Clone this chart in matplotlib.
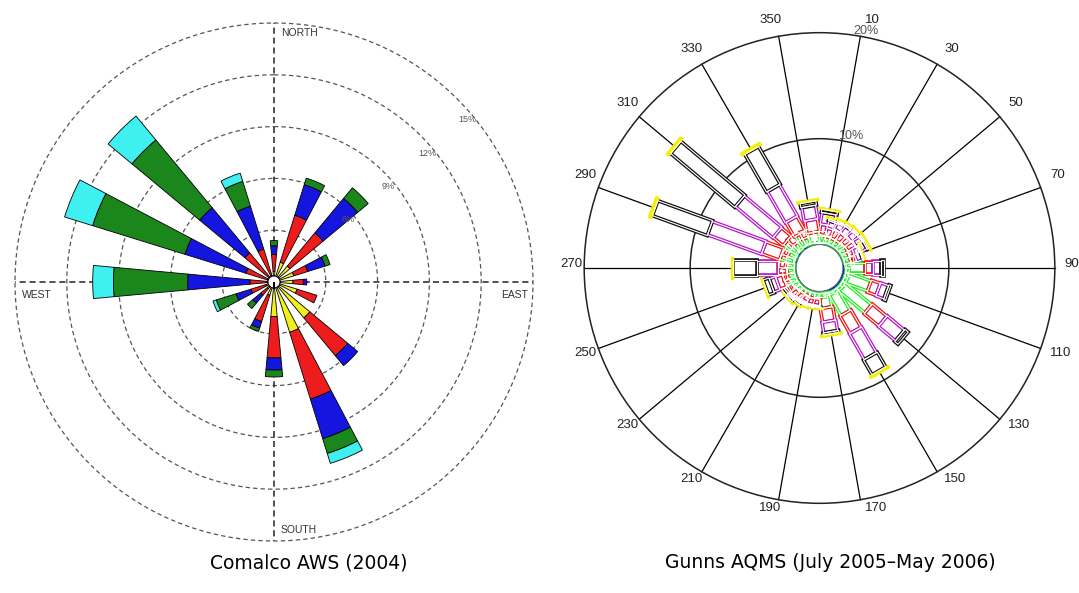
import numpy as np
import matplotlib.pyplot as plt
from matplotlib.patches import Polygon, Circle

# ---- left rose: Comalco AWS (2004), 16 sectors, cumulative % per speed class
left_dirs = np.arange(0, 360, 22.5)
left_colors = ['#f2ef1e', '#ee1c1c', '#1515e0', '#1b861b', '#3ef0f0']
left_cum = [
    [0.6, 1.6, 2.1, 2.4, 2.4],     # N
    [1.2, 4.05, 5.9, 6.3, 6.3],
    [1.2, 3.7, 6.3, 7.1, 7.1],
    [1.2, 2.05, 3.1, 3.4, 3.4],
    [1.1, 1.7, 1.9, 1.9, 1.9],     # E
    [1.4, 2.6, 2.6, 2.6, 2.6],
    [2.7, 5.55, 6.3, 6.3, 6.3],
    [3.05, 7.1, 9.5, 10.4, 11.0],
    [2.0, 4.4, 5.1, 5.5, 5.5],     # S
    [0.8, 2.4, 2.8, 3.0, 3.0],
    [0.5, 1.0, 1.6, 2.0, 2.0],
    [0.5, 1.4, 2.3, 3.5, 3.7],
    [0.4, 1.4, 5.0, 9.3, 10.5],    # W
    [0.4, 1.7, 5.4, 11.0, 12.7],
    [0.4, 2.2, 5.6, 10.7, 12.5],
    [0.4, 2.0, 4.6, 6.1, 6.6],
]
left_rings = [3, 6, 9, 12, 15]
left_ring_labels = ['6%', '9%', '12%', '15%']

# ---- right rose: Gunns AQMS, 36 sectors, cumulative % per class
right_dirs = np.arange(0, 360, 10)
right_colors = ['#1010f0', '#22ee22', '#ee1111', '#b316c8', '#111111', '#f5f000']
right_cum = [
    [0.15, 0.8, 1.3, 1.3, 1.3, 1.3],        # 0
    [0.2, 0.9, 1.9, 3.0, 3.3, 3.45],
    [0.2, 0.8, 1.6, 2.3, 2.45, 2.65],
    [0.2, 0.8, 1.7, 2.4, 2.55, 2.75],
    [0.2, 0.8, 1.6, 2.4, 2.6, 2.8],
    [0.2, 0.9, 1.7, 2.5, 2.65, 2.85],
    [0.2, 0.9, 1.8, 2.6, 2.75, 2.95],
    [0.2, 0.8, 1.3, 1.9, 2.0, 2.15],
    [0.2, 0.8, 1.1, 1.1, 1.1, 1.1],
    [0.3, 2.1, 2.8, 3.6, 3.9, 3.9],          # 90
    [0.3, 0.6, 0.6, 0.6, 0.6, 0.6],
    [0.3, 2.8, 3.7, 4.5, 4.7, 4.7],
    [0.3, 0.6, 0.6, 0.6, 0.6, 0.6],
    [0.3, 3.8, 5.6, 7.7, 8.1, 8.1],
    [0.3, 0.6, 0.6, 0.6, 0.6, 0.6],
    [0.3, 2.7, 4.6, 7.4, 9.0, 9.25],         # 150
    [0.3, 0.5, 0.5, 0.5, 0.5, 0.5],
    [0.2, 1.6, 2.9, 3.9, 4.1, 4.3],
    [0.2, 0.5, 0.5, 0.5, 0.5, 0.5],          # 180
    [0.2, 0.7, 1.3, 1.4, 1.5, 1.65],
    [0.2, 0.7, 1.3, 1.4, 1.5, 1.65],
    [0.2, 0.6, 1.2, 1.4, 1.55, 1.7],
    [0.2, 0.6, 1.3, 1.5, 1.7, 1.85],
    [0.2, 0.7, 1.4, 1.6, 1.85, 2.0],
    [0.2, 0.8, 1.2, 1.2, 1.2, 1.2],
    [0.2, 1.3, 2.0, 2.6, 3.2, 3.35],         # 250
    [0.2, 0.9, 1.3, 1.3, 1.3, 1.3],
    [0.2, 0.9, 1.7, 3.7, 6.0, 6.15],         # 270
    [0.2, 1.0, 1.6, 1.6, 1.6, 1.6],
    [0.3, 1.6, 3.4, 8.8, 14.3, 14.6],        # 290
    [0.2, 1.0, 1.5, 1.5, 1.5, 1.5],
    [0.4, 1.8, 3.0, 7.6, 15.5, 15.8],        # 310
    [0.2, 1.0, 1.8, 1.8, 1.8, 1.8],
    [0.3, 1.5, 3.1, 6.5, 10.6, 10.9],        # 330
    [0.2, 0.9, 1.6, 1.6, 1.6, 1.6],
    [0.2, 1.2, 2.4, 3.7, 4.1, 4.3],          # 350
]
right_spokes = np.arange(10, 360, 20)
right_rings = [10, 20]

W, H = 1079, 593
fig = plt.figure(figsize=(W / 100, H / 100), dpi=100)
fig.patch.set_facecolor('white')

# ================= left chart (polar) =================
cx, cy, rpx15 = 274, 282, 259.0
pxper = rpx15 / 15.0
rmax = 15.3
rad = pxper * rmax
axL = fig.add_axes([(cx - rad) / W, (H - cy - rad) / H, 2 * rad / W, 2 * rad / H],
                   projection='polar')
axL.set_theta_zero_location('N')
axL.set_theta_direction(-1)
axL.set_ylim(0, rmax)
axL.set_axis_off()

t = np.linspace(0, 2 * np.pi, 500)
for r in left_rings:
    axL.plot(t, np.full_like(t, r), ls=(0, (3.5, 2.5)), color='#555555', lw=0.9, zorder=1)
for a in [0, 90, 180, 270]:
    axL.plot([np.radians(a)] * 2, [0, 15], ls=(0, (4, 2.5)), color='#222222', lw=1.1, zorder=1)

hole = 0.35
cum = np.array(left_cum)
theta = np.radians(left_dirs)
prev = np.full(len(left_dirs), hole)
for j, col in enumerate(left_colors):
    top = np.maximum(cum[:, j], hole)
    h = top - prev
    m = h > 0
    axL.bar(theta[m], h[m], width=np.radians(10.5), bottom=prev[m], color=col,
            edgecolor='black', linewidth=0.6, zorder=3)
    prev = np.maximum(prev, top)
axL.bar([0], [hole], width=2 * np.pi, bottom=0, color='white', edgecolor='black',
        linewidth=0.8, zorder=4)

for r, lab in zip(left_rings[1:], left_ring_labels):
    axL.text(np.radians(50), r - 0.4, lab, fontsize=6.5, color='#555555',
             ha='center', va='center', family='Liberation Sans', zorder=5)

def ftext(x, y, s, **kw):
    fig.text(x / W, 1 - y / H, s, **kw)

ftext(281, 33, 'NORTH', fontsize=7.5, color='#333333', ha='left', va='center', family='Liberation Sans')
ftext(281, 530, 'SOUTH', fontsize=7.5, color='#333333', ha='left', va='center', family='Liberation Sans')
ftext(22, 295, 'WEST', fontsize=7.5, color='#333333', ha='left', va='center', family='Liberation Sans')
ftext(528, 295, 'EAST', fontsize=7.5, color='#333333', ha='right', va='center', family='Liberation Sans')

# ================= right chart (cartesian) =================
rcx, rcy = 819.5, 268.0
k = 10.6
r0 = 2.2
axR = fig.add_axes([545 / W, (H - 545) / H, (W - 545) / W, 545 / H])
axR.set_xlim((545 - rcx) / k, (W - rcx) / k)
axR.set_ylim(-(545 - rcy) / k, rcy / k)
axR.set_axis_off()

R = r0 + 20
for a in right_spokes:
    ar = np.radians(a)
    axR.plot([0, R * np.sin(ar)], [0, R * np.cos(ar)], color='black', lw=0.9, zorder=1)
for rr in right_rings:
    axR.add_patch(Circle((0, 0), r0 + rr, fill=False, edgecolor='#222222', lw=1.1, zorder=1))

widths = [0.55, 1.0, 1.2, 1.32, 1.5, 2.1]
for d, vals in zip(right_dirs, right_cum):
    ar = np.radians(d)
    u = np.array([np.sin(ar), np.cos(ar)])
    n = np.array([np.cos(ar), -np.sin(ar)])
    lo = 0.0
    for j, hi in enumerate(vals):
        if hi - lo <= 0.01:
            continue
        w = widths[j] / 2
        a0, a1 = r0 + lo, r0 + hi
        pts = [a0 * u + w * n, a1 * u + w * n, a1 * u - w * n, a0 * u - w * n]
        col = right_colors[j]
        if j in (0, 5):
            axR.add_patch(Polygon(pts, closed=True, facecolor=col, edgecolor=col, lw=1.0, zorder=3))
        else:
            axR.add_patch(Polygon(pts, closed=True, facecolor='white', edgecolor=col, lw=2.6, zorder=3))
            axR.add_patch(Polygon(pts, closed=True, fill=False, edgecolor='white', lw=0.8, zorder=3.5))
        lo = hi
axR.add_patch(Circle((0, 0), r0, facecolor='white', edgecolor='#666666', lw=0.6, zorder=4))

off = 6 / k
for a in right_spokes:
    ar = np.radians(a)
    s, c = np.sin(ar), np.cos(ar)
    ha = 'left' if s > 0.1 else ('right' if s < -0.1 else 'center')
    va = 'bottom' if c > 0.1 else ('top' if c < -0.1 else 'center')
    x = (R + off) * s + 4 / k
    y = (R + off) * c + 4 / k
    axR.text(x, y, str(a), fontsize=9.5, color='#222222', ha=ha, va=va, family='Liberation Sans')

axR.text(3.16, 22.4, '20%', fontsize=9, color='#555555', ha='left', va='center', family='Liberation Sans')
axR.text(1.73, 12.45, '10%', fontsize=9, color='#555555', ha='left', va='center', family='Liberation Sans')

# ---- captions
ftext(309, 563, 'Comalco AWS (2004)', fontsize=13.5, ha='center', va='center', family='DejaVu Sans')
ftext(830, 563, 'Gunns AQMS (July 2005\u2013May 2006)', fontsize=13.5, ha='center', va='center',
      family='DejaVu Sans')

fig.savefig('out.png', dpi=100, facecolor='white')
